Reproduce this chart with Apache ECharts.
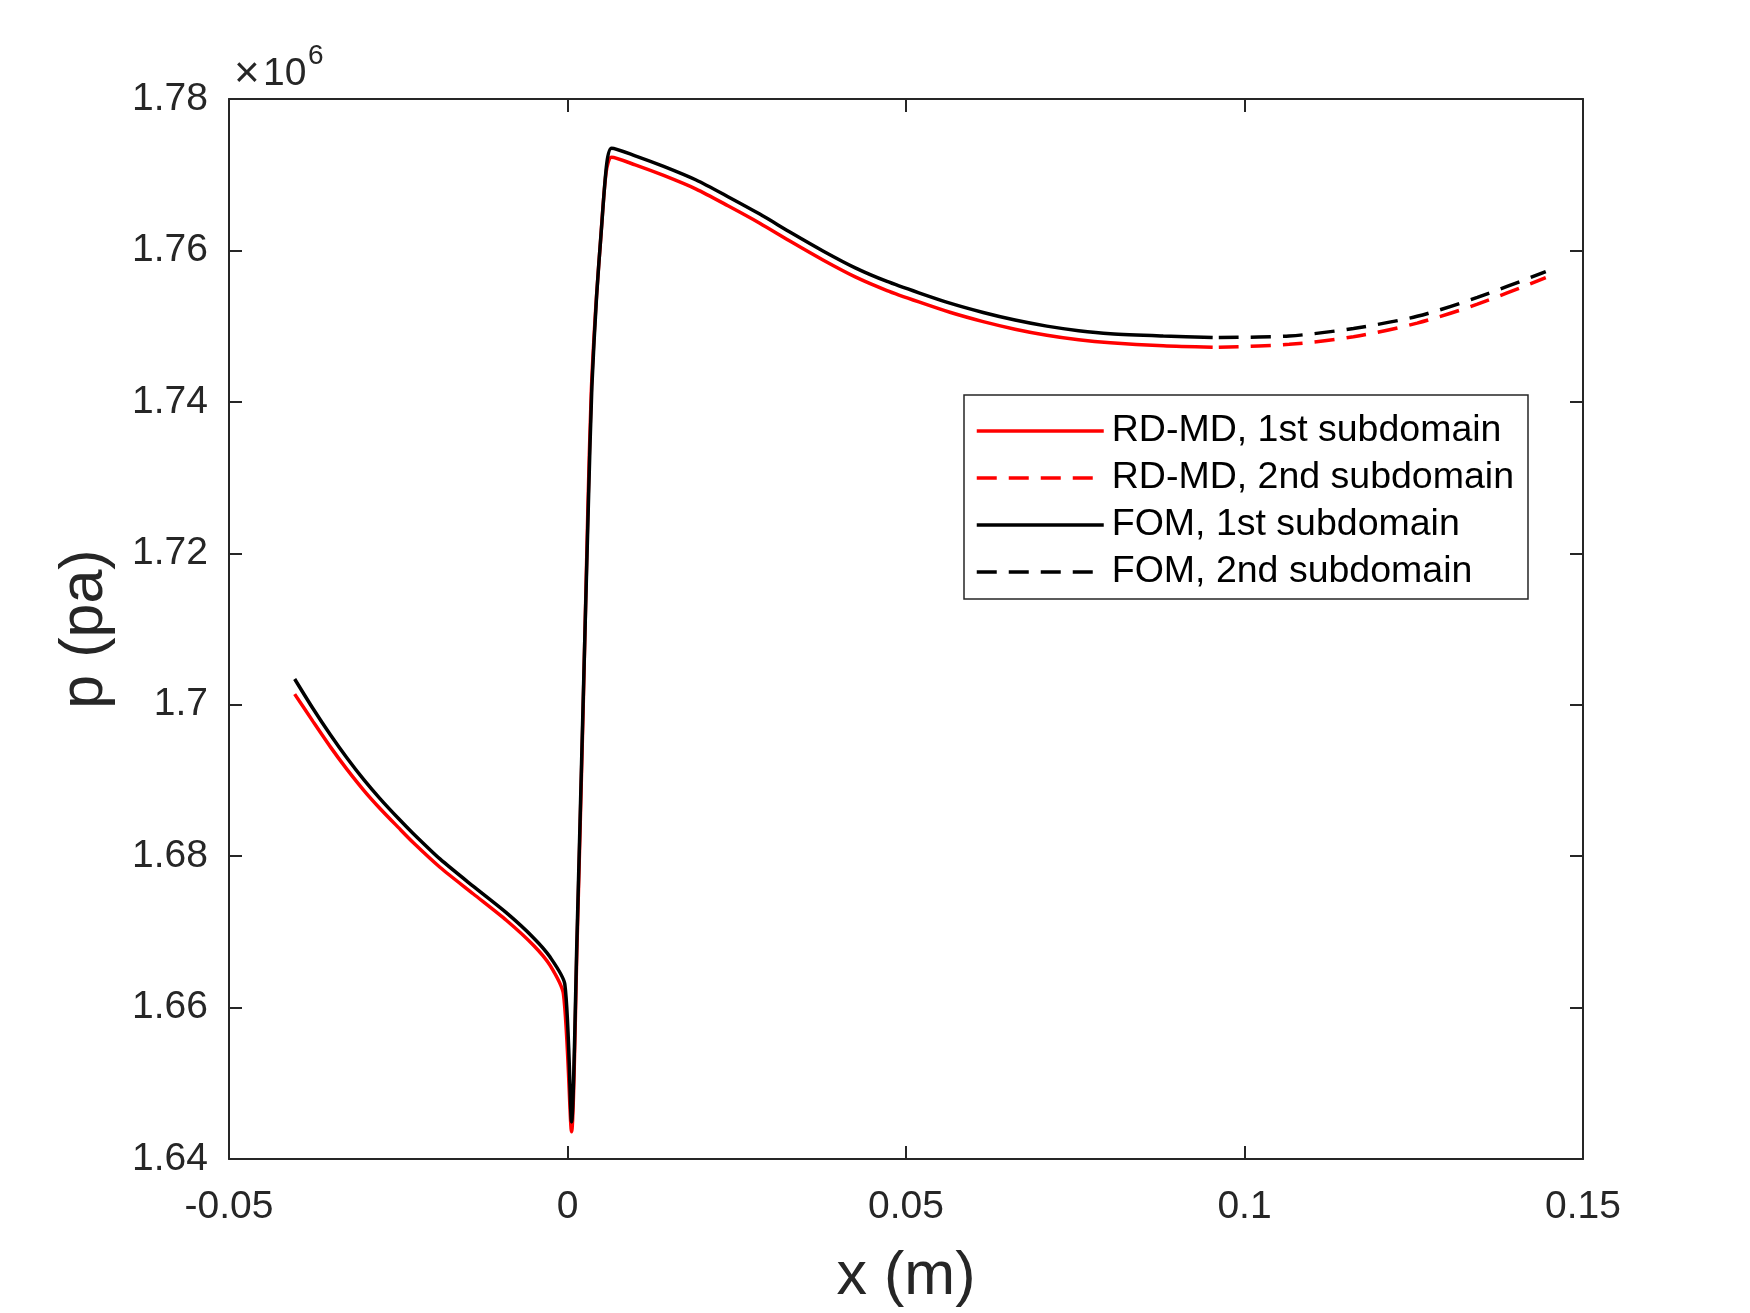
<!DOCTYPE html>
<html>
<head>
<meta charset="utf-8">
<title>p vs x</title>
<script src="https://cdn.jsdelivr.net/npm/echarts@6/dist/echarts.min.js"></script>
<style>
    html, body { margin: 0; padding: 0; background: #fff; }
    #chart { width: 1750px; height: 1313px; }
</style>
</head>
<body>
<div id="chart"></div>
<script>
    // pressure values are in units of 1e6 Pa (axis shows x10^6)
    const rdX1 = [-0.0403, -0.0376, -0.0350, -0.0326, -0.0300, -0.0277, -0.0250, -0.0228, -0.0188, -0.0139,
        -0.0090, -0.0050, -0.0026, -0.0006, 0.0006, 0.0014, 0.0023, 0.0030, 0.0035, 0.0042, 0.0049, 0.0057, 0.0065,
        0.0100, 0.0142, 0.0190, 0.0237, 0.0284, 0.0331, 0.0378, 0.0425, 0.0472, 0.0519, 0.0566, 0.0614,
        0.0661, 0.0708, 0.0755, 0.0802, 0.0880, 0.0953];
    const rdY1 = [1.7014, 1.6978, 1.6944, 1.6915, 1.6886, 1.6863, 1.6838, 1.6818, 1.6785, 1.6750,
        1.6715, 1.6682, 1.6656, 1.6618, 1.6436, 1.6680, 1.6990, 1.7255, 1.7410, 1.7528, 1.7615, 1.7703, 1.7723,
        1.7713, 1.7699, 1.7681, 1.7659, 1.7636, 1.7611, 1.7587, 1.7565, 1.7547, 1.7532, 1.7518, 1.7506,
        1.7496, 1.7488, 1.7482, 1.7478, 1.7474, 1.7472];

    const rdX2 = [0.0962, 0.1066, 0.1161, 0.1255, 0.1344, 0.1445];
    const rdY2 = [1.7472, 1.7476, 1.7486, 1.7504, 1.7529, 1.7564];

    const fomX1 = [-0.0403, -0.0376, -0.0350, -0.0326, -0.0300, -0.0277, -0.0250, -0.0228, -0.0188, -0.0139,
        -0.0090, -0.0050, -0.0026, -0.0004, 0.0006, 0.0014, 0.0023, 0.0031, 0.0036, 0.0043, 0.0050, 0.0058, 0.0065,
        0.0100, 0.0142, 0.0190, 0.0237, 0.0284, 0.0331, 0.0378, 0.0425, 0.0472, 0.0519, 0.0566, 0.0614,
        0.0661, 0.0708, 0.0755, 0.0802, 0.0880, 0.0953];
    const fomY1 = [1.7034, 1.6995, 1.6960, 1.6930, 1.6900, 1.6876, 1.6850, 1.6830, 1.6796, 1.6760,
        1.6725, 1.6692, 1.6667, 1.6631, 1.6449, 1.6692, 1.7000, 1.7270, 1.7420, 1.7540, 1.7627, 1.7715, 1.7735,
        1.7725, 1.7711, 1.7693, 1.7671, 1.7648, 1.7623, 1.7599, 1.7577, 1.7559, 1.7544, 1.7530, 1.7518,
        1.7508, 1.7500, 1.7494, 1.7490, 1.7487, 1.7485];

    const fomX2 = [0.0962, 0.1066, 0.1161, 0.1255, 0.1344, 0.1445];
    const fomY2 = [1.7485, 1.7487, 1.7497, 1.7513, 1.7538, 1.7572];

    const seriesNames = ['RD-MD, 1st subdomain', 'RD-MD, 2nd subdomain', 'FOM, 1st subdomain', 'FOM, 2nd subdomain'];

    const xTicks = [-0.05, 0, 0.05, 0.1, 0.15];
    const xTickLabels = ['-0.05', '0', '0.05', '0.1', '0.15'];
    const yTicks = [1.64, 1.66, 1.68, 1.70, 1.72, 1.74, 1.76, 1.78];
    const yTickLabels = ['1.64', '1.66', '1.68', '1.7', '1.72', '1.74', '1.76', '1.78'];

    const FONT = 'Liberation Sans, Arial, Helvetica, sans-serif';
    const AXIS_COLOR = '#262626';

    function pairs(xs, ys) {
        return xs.map((x, i) => [x, ys[i]]);
    }
    function tickLabel(ticks, labels) {
        return function (v) {
            for (let i = 0; i < ticks.length; i++) {
                if (Math.abs(ticks[i] - v) < 1e-9) return labels[i];
            }
            return '';
        };
    }

    const chart = echarts.init(document.getElementById('chart'));

    const axisBase = {
        type: 'value',
        axisLine: { show: true, onZero: false, lineStyle: { color: AXIS_COLOR, width: 2 } },
        axisTick: { show: true, inside: true, length: 13, lineStyle: { color: AXIS_COLOR, width: 2 } },
        splitLine: { show: false }
    };

    function lineSeries(name, data, color, dashed) {
        return {
            name: name,
            type: 'line',
            data: data,
            showSymbol: false,
            symbol: 'none',
            smooth: dashed ? 0.3 : 0.25,
            xAxisIndex: 0,
            yAxisIndex: 0,
            lineStyle: { color: color, width: 3.5, type: dashed ? [20, 12] : 'solid' },
            itemStyle: { color: color }
        };
    }

    const option = {
        animation: false,
        backgroundColor: '#ffffff',
        grid: { left: 229, top: 99, right: 167, bottom: 151, containLabel: false },
        xAxis: [
            Object.assign({}, axisBase, {
                position: 'bottom',
                min: xTicks[0],
                max: xTicks[xTicks.length - 1],
                interval: 0.05,
                axisLabel: {
                    color: AXIS_COLOR, fontSize: 39, fontFamily: FONT, margin: 29,
                    formatter: tickLabel(xTicks, xTickLabels)
                },
                name: 'x (m)',
                nameLocation: 'middle',
                nameGap: 88,
                nameTextStyle: { color: AXIS_COLOR, fontSize: 61, fontFamily: FONT }
            }),
            Object.assign({}, axisBase, {
                position: 'top',
                min: xTicks[0],
                max: xTicks[xTicks.length - 1],
                interval: 0.05,
                axisLabel: { show: false }
            })
        ],
        yAxis: [
            Object.assign({}, axisBase, {
                position: 'left',
                min: yTicks[0],
                max: yTicks[yTicks.length - 1],
                interval: 0.02,
                axisLabel: {
                    color: AXIS_COLOR, fontSize: 39, fontFamily: FONT, margin: 21,
                    formatter: tickLabel(yTicks, yTickLabels)
                },
                name: 'p (pa)',
                nameLocation: 'middle',
                nameGap: 113,
                nameRotate: 90,
                nameTextStyle: { color: AXIS_COLOR, fontSize: 61, fontFamily: FONT }
            }),
            Object.assign({}, axisBase, {
                position: 'right',
                min: yTicks[0],
                max: yTicks[yTicks.length - 1],
                interval: 0.02,
                axisLabel: { show: false }
            })
        ],
        legend: {
            orient: 'vertical',
            left: 964,
            top: 395,
            data: seriesNames,
            itemWidth: 127,
            itemHeight: 36,
            itemGap: 9,
            padding: [17, 14, 8, 11],
            borderColor: AXIS_COLOR,
            borderWidth: 1.5,
            backgroundColor: '#ffffff',
            selectedMode: false,
            itemStyle: { opacity: 0 },
            lineStyle: { width: 3.5 },
            textStyle: {
                color: '#000000', fontSize: 37.5, fontFamily: FONT,
                lineHeight: 36, padding: [0, 0, 0, 3]
            }
        },
        graphic: [
            {
                type: 'text', left: 234, top: 53,
                style: { text: '\u00d7', fill: AXIS_COLOR, font: '44px ' + FONT }
            },
            {
                type: 'text', left: 263, top: 55,
                style: { text: '10', fill: AXIS_COLOR, font: '39px ' + FONT }
            },
            {
                type: 'text', left: 308, top: 42,
                style: { text: '6', fill: AXIS_COLOR, font: '28px ' + FONT }
            }
        ],
        series: [
            lineSeries(seriesNames[0], pairs(rdX1, rdY1), '#ff0000', false),
            lineSeries(seriesNames[1], pairs(rdX2, rdY2), '#ff0000', true),
            lineSeries(seriesNames[2], pairs(fomX1, fomY1), '#000000', false),
            lineSeries(seriesNames[3], pairs(fomX2, fomY2), '#000000', true)
        ]
    };

    chart.setOption(option);
    window.addEventListener('resize', function () {
        chart.resize();
    });
</script>
</body>
</html>
